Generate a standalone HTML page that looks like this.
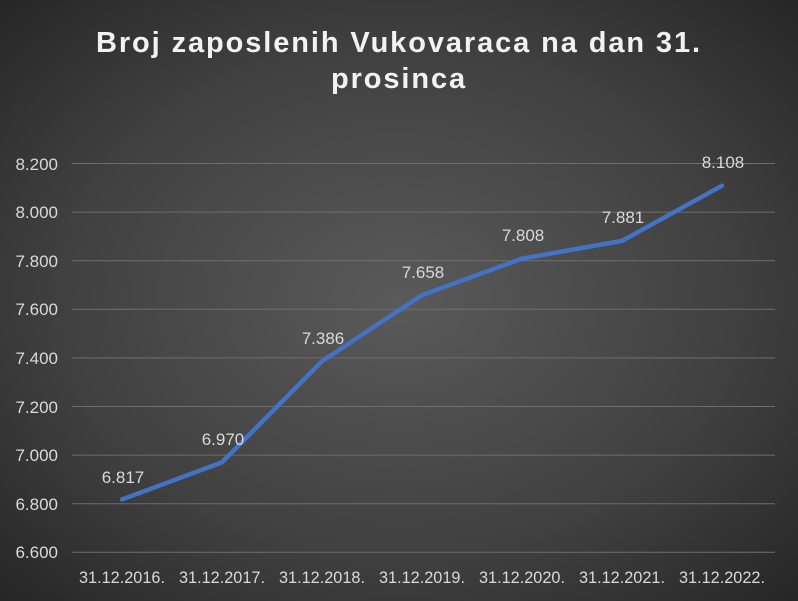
<!DOCTYPE html>
<html><head><meta charset="utf-8"><style>
html,body{margin:0;padding:0;}
body{width:798px;height:601px;overflow:hidden;background:radial-gradient(ellipse at center,#5a5a5a 0%,#404040 60%,#262626 100%);font-family:"Liberation Sans",sans-serif;}
</style></head><body>
<svg width="798" height="601" xmlns="http://www.w3.org/2000/svg" style="position:absolute;left:0;top:0">
<g font-family="Liberation Sans, sans-serif">
<text x="399" y="52" text-anchor="middle" font-size="29" font-weight="bold" fill="#f2f2f2" letter-spacing="1.9">Broj zaposlenih Vukovaraca na dan 31.</text>
<text x="399" y="88" text-anchor="middle" font-size="29" font-weight="bold" fill="#f2f2f2" letter-spacing="1.9">prosinca</text>
<g stroke="#6e6e6e" stroke-width="1">
<line x1="72" x2="775" y1="163.5" y2="163.5"/>
<line x1="72" x2="775" y1="212.1" y2="212.1"/>
<line x1="72" x2="775" y1="260.7" y2="260.7"/>
<line x1="72" x2="775" y1="309.3" y2="309.3"/>
<line x1="72" x2="775" y1="357.9" y2="357.9"/>
<line x1="72" x2="775" y1="406.5" y2="406.5"/>
<line x1="72" x2="775" y1="455.1" y2="455.1"/>
<line x1="72" x2="775" y1="503.7" y2="503.7"/>
<line x1="72" x2="775" y1="552.3" y2="552.3"/>
</g>
<g font-size="17" fill="#d9d9d9" text-anchor="end">
<text x="58" y="170">8.200</text>
<text x="58" y="218">8.000</text>
<text x="58" y="267">7.800</text>
<text x="58" y="315">7.600</text>
<text x="58" y="364">7.400</text>
<text x="58" y="413">7.200</text>
<text x="58" y="461">7.000</text>
<text x="58" y="510">6.800</text>
<text x="58" y="558">6.600</text>
</g>
<g font-size="16.3" fill="#d9d9d9" text-anchor="middle">
<text x="122" y="583">31.12.2016.</text>
<text x="222" y="583">31.12.2017.</text>
<text x="322" y="583">31.12.2018.</text>
<text x="422" y="583">31.12.2019.</text>
<text x="522" y="583">31.12.2020.</text>
<text x="622" y="583">31.12.2021.</text>
<text x="722" y="583">31.12.2022.</text>
</g>
<polyline fill="none" stroke="#4472c4" stroke-width="4.5" stroke-linejoin="round" stroke-linecap="round"
points="122,499.5 222,462.3 322,361.2 422,295.1 522,258.6 622,240.9 722,185.7"/>
<g font-size="17" fill="#d9d9d9" text-anchor="middle">
<text x="123" y="483">6.817</text>
<text x="223" y="445">6.970</text>
<text x="323" y="344">7.386</text>
<text x="423" y="278">7.658</text>
<text x="523" y="241">7.808</text>
<text x="623" y="223">7.881</text>
<text x="723" y="168">8.108</text>
</g>
</g>
</svg>
</body></html>
